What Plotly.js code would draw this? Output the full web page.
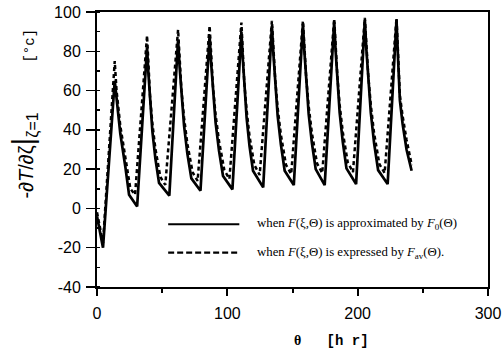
<!DOCTYPE html>
<html>
<head>
<meta charset="utf-8">
<script src="https://cdn.plot.ly/plotly-3.0.1.min.js"></script>
<style>
  html, body { margin: 0; padding: 0; background: #fff; }
  #chart { width: 504px; height: 350px; }
</style>
</head>
<body>
<div id="chart"></div>
<script>
// ---- data (theta [hr], -dT/dzeta [°C]) ----
var thetaApprox = [
  0, 4.6,
  13.6, 15.0, 17.9, 21.8, 24.6, 30.8,
  38.4, 39.5, 40.7, 42.5, 44.8, 47.6, 55.5,
  62.2, 63.4, 64.8, 66.8, 69.3, 72.4, 79.4,
  86.4, 87.6, 89.0, 91.0, 93.6, 96.7, 103.9,
  110.8, 111.9, 113.0, 114.8, 117.0, 119.7, 127.5,
  134.2, 135.4, 136.7, 138.6, 141.1, 144.0, 151.0,
  158.0, 159.2, 160.5, 162.4, 164.9, 167.8, 174.7,
  182.0, 183.1, 184.4, 186.2, 188.6, 191.4, 198.8,
  205.5, 206.7, 208.1, 210.1, 212.6, 215.7, 223.0,
  229.8, 231.0, 232.4, 234.5, 237.5, 241.4
];
var valueApprox = [
  -4, -20,
  65, 56, 38, 21, 7, 1,
  82, 68.2, 54.4, 39.2, 25.4, 13, 6.5,
  86, 71.9, 57.7, 42.2, 28.0, 15.3, 9,
  88, 73.7, 59.4, 43.7, 29.4, 16.5, 9.7,
  90, 75.8, 61.7, 46.1, 31.9, 19.2, 10.7,
  93, 78.2, 63.5, 47.2, 32.5, 19.2, 11.9,
  94, 79.2, 64.4, 48.1, 33.3, 20, 11.9,
  95, 80.1, 65.2, 48.7, 33.8, 20.4, 12.4,
  96, 80.7, 65.4, 48.6, 33.3, 19.5, 12.4,
  96, 76, 55, 43, 30, 19.2
];
var thetaAverage = [
  0, 4.6,
  13.6, 15.0, 17.9, 21.8, 25.6, 29.2,
  38.4, 39.5, 40.7, 42.5, 44.8, 48.6, 52.4,
  62.2, 63.4, 64.8, 66.8, 69.3, 73.4, 77.2,
  86.4, 87.6, 89.0, 91.0, 93.6, 97.7, 101.6,
  110.8, 111.9, 113.0, 114.8, 117.0, 120.7, 124.8,
  134.2, 135.4, 136.7, 138.6, 141.1, 145.0, 149.0,
  158.0, 159.2, 160.5, 162.4, 164.9, 168.8, 172.8,
  182.0, 183.1, 184.4, 186.2, 188.6, 192.4, 196.4,
  205.5, 206.7, 208.1, 210.1, 212.6, 216.7, 220.7,
  229.8, 231.0, 232.4, 234.5, 237.5, 241.5
];
var valueAverage = [
  -2, -17.5,
  75, 60, 42, 26, 10, 7,
  88, 73.3, 57, 43.2, 30.4, 16, 12,
  91, 76.4, 60.2, 46.2, 33, 18.3, 14,
  93, 78.2, 61.9, 47.7, 34.4, 19.5, 15,
  94.6, 80.1, 64.2, 50.1, 36.9, 22.2, 17,
  95.5, 81.2, 66, 51.2, 37.5, 22.2, 17.5,
  95.5, 81.7, 66.9, 52.1, 38.3, 23, 18,
  96.5, 82.6, 67.7, 52.7, 38.8, 23.4, 18.5,
  97, 82.8, 67.9, 52.6, 38.3, 22.5, 18,
  97, 79, 57.5, 47, 35, 22
];
var seriesNames = [
  'when <i>F</i>(ξ,Θ) is approximated by <i>F</i><sub>0</sub>(Θ)',
  'when <i>F</i>(ξ,Θ) is expressed by <i>F</i><sub>av</sub>(Θ).'
];
var xTickVals = [0, 100, 200, 300];
var xTickText = ['0', '100', '200', '300'];
var yTickVals = [-40, -20, 0, 20, 40, 60, 80, 100];
var yTickText = ['-40', '-20', '0', '20', '40', '60', '80', '100'];

var traces = [
  { x: thetaApprox, y: valueApprox, mode: 'lines', name: seriesNames[0],
    line: { color: '#000', width: 2.7 } },
  { x: thetaAverage, y: valueAverage, mode: 'lines', name: seriesNames[1],
    line: { color: '#000', width: 2.5, dash: '4px,3px' } }
];

var tickFont = { family: 'Liberation Sans, Arial, sans-serif', size: 16, color: '#000' };

var layout = {
  width: 504, height: 350,
  margin: { l: 97, r: 16, t: 12, b: 63 },
  paper_bgcolor: '#fff', plot_bgcolor: '#fff',
  showlegend: false,
  xaxis: {
    range: [0, 300], tickmode: 'array', tickvals: xTickVals, ticktext: xTickText,
    ticks: 'outside', ticklen: 7, tickwidth: 2, tickcolor: '#000',
    minor: { tickmode: 'linear', tick0: 0, dtick: 50, ticks: 'outside', ticklen: 4, tickwidth: 2, tickcolor: '#000' },
    showline: true, linecolor: '#000', linewidth: 2, mirror: true,
    showgrid: false, zeroline: false, tickfont: tickFont, ticklabelstandoff: 4
  },
  yaxis: {
    range: [-40, 100], tickmode: 'array', tickvals: yTickVals, ticktext: yTickText,
    ticks: 'outside', ticklen: 9, tickwidth: 1.5, tickcolor: '#000',
    minor: { tickmode: 'linear', tick0: 0, dtick: 10, ticks: 'inside', ticklen: 3, tickwidth: 1.5, tickcolor: '#000' },
    showline: true, linecolor: '#000', linewidth: 2, mirror: true,
    showgrid: false, zeroline: false, tickfont: tickFont, ticklabelstandoff: 2
  },
  shapes: [
    { type: 'line', xref: 'paper', yref: 'paper', x0: 0.182, x1: 0.364, y0: 0.228, y1: 0.228,
      line: { color: '#000', width: 2 } },
    { type: 'line', xref: 'paper', yref: 'paper', x0: 0.182, x1: 0.364, y0: 0.125, y1: 0.125,
      line: { color: '#000', width: 2.2, dash: '6px,3px' } }
  ],
  annotations: [
    { xref: 'paper', yref: 'paper', x: 0.404, y: 0.228, xanchor: 'left', yanchor: 'middle',
      showarrow: false, text: seriesNames[0],
      font: { family: 'Liberation Serif, Times New Roman, serif', size: 12.8, color: '#000' } },
    { xref: 'paper', yref: 'paper', x: 0.404, y: 0.125, xanchor: 'left', yanchor: 'middle',
      showarrow: false, text: seriesNames[1],
      font: { family: 'Liberation Serif, Times New Roman, serif', size: 12.8, color: '#000' } },
    { xref: 'paper', yref: 'paper', x: -0.188, y: 0.48, xanchor: 'center', yanchor: 'middle',
      textangle: -90, showarrow: false,
      text: '-∂<i>T</i>/∂ζ<span style="font-size:30px">|</span><sub><span style="font-size:16px">ζ=1</span></sub>',
      font: { family: 'Liberation Sans, Arial, sans-serif', size: 20, color: '#000' } },
    { xref: 'paper', yref: 'paper', x: -0.172, y: 0.877, xanchor: 'center', yanchor: 'middle',
      textangle: -90, showarrow: false,
      text: '[°c]',
      font: { family: 'Liberation Mono, DejaVu Sans Mono, monospace', size: 14, color: '#000' } },
    { xref: 'paper', yref: 'paper', x: 0.499, y: -0.196, xanchor: 'left', yanchor: 'middle',
      showarrow: false,
      text: '<b>θ</b><span style="font-family:Liberation Mono">   <b>[h r]</b></span>',
      font: { family: 'Liberation Serif, serif', size: 14, color: '#000' } }
  ]
};

Plotly.newPlot('chart', traces, layout, { displayModeBar: false, staticPlot: true });
</script>
</body>
</html>
